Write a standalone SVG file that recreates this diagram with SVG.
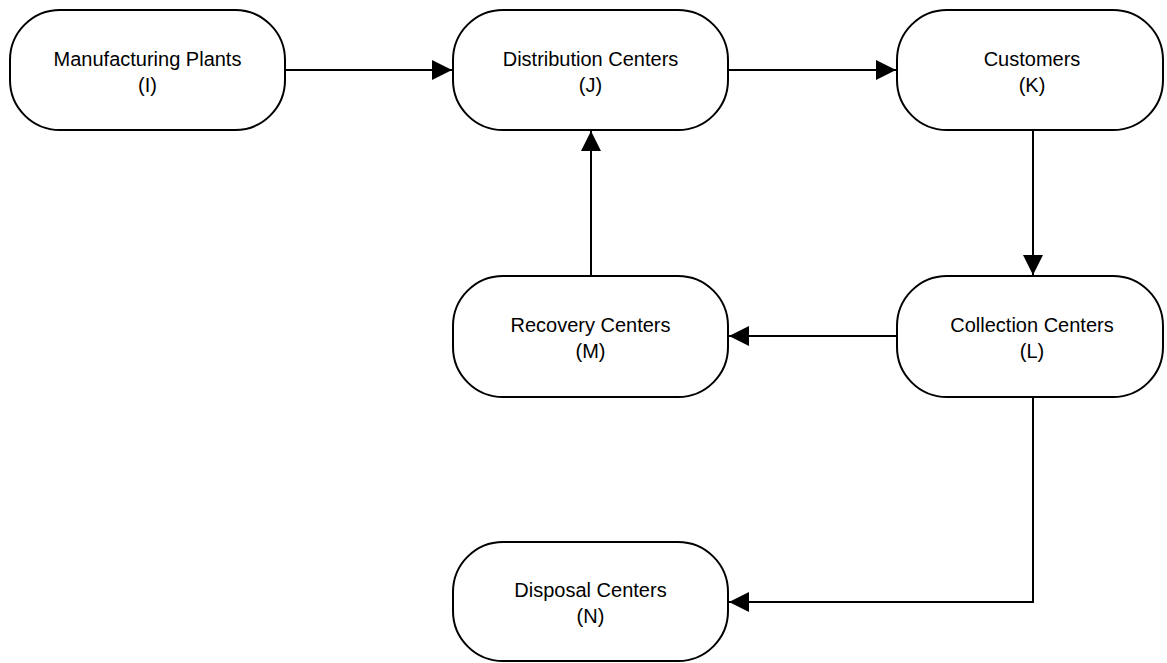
<svg xmlns="http://www.w3.org/2000/svg" width="1167" height="663" viewBox="0 0 1167 663">
<style>
.node rect{fill:#fff;stroke:#000;stroke-width:2}
.node text{font-family:"Liberation Sans",Arial,sans-serif;font-size:20px;fill:#000;text-anchor:middle}
.conn path{fill:none;stroke:#000;stroke-width:2}
</style>
<defs>
<marker id="arr" viewBox="0 0 20 20" refX="20" refY="10" markerWidth="20" markerHeight="20" markerUnits="userSpaceOnUse" orient="auto">
<path d="M0,0 L20,10 L0,20 Z" fill="#000"/>
</marker>
</defs>
<g class="conn">
<path d="M285,70 H452" marker-end="url(#arr)"/>
<path d="M728,70 H896" marker-end="url(#arr)"/>
<path d="M1033,130 V275" marker-end="url(#arr)"/>
<path d="M897,336 H729" marker-end="url(#arr)"/>
<path d="M591,276 V131" marker-end="url(#arr)"/>
<path d="M1033,397 V602 H729" marker-end="url(#arr)"/>
</g>
<g id="nodeI" class="node"><rect x="10" y="10" width="275" height="120" rx="50" ry="50"/><text x="147.5" y="66">Manufacturing Plants</text><text x="147.5" y="92">(I)</text></g>
<g id="nodeJ" class="node"><rect x="453" y="10" width="275" height="120" rx="50" ry="50"/><text x="590.5" y="66">Distribution Centers</text><text x="590.5" y="92">(J)</text></g>
<g id="nodeK" class="node"><rect x="897" y="10" width="266" height="120" rx="50" ry="50"/><text x="1032" y="66">Customers</text><text x="1032" y="92">(K)</text></g>
<g id="nodeL" class="node"><rect x="897" y="276" width="266" height="121" rx="50" ry="50"/><text x="1032" y="332">Collection Centers</text><text x="1032" y="358">(L)</text></g>
<g id="nodeM" class="node"><rect x="453" y="276" width="275" height="121" rx="50" ry="50"/><text x="590.5" y="332">Recovery Centers</text><text x="590.5" y="358">(M)</text></g>
<g id="nodeN" class="node"><rect x="453" y="542" width="275" height="119" rx="50" ry="50"/><text x="590.5" y="597">Disposal Centers</text><text x="590.5" y="623">(N)</text></g>
</svg>
